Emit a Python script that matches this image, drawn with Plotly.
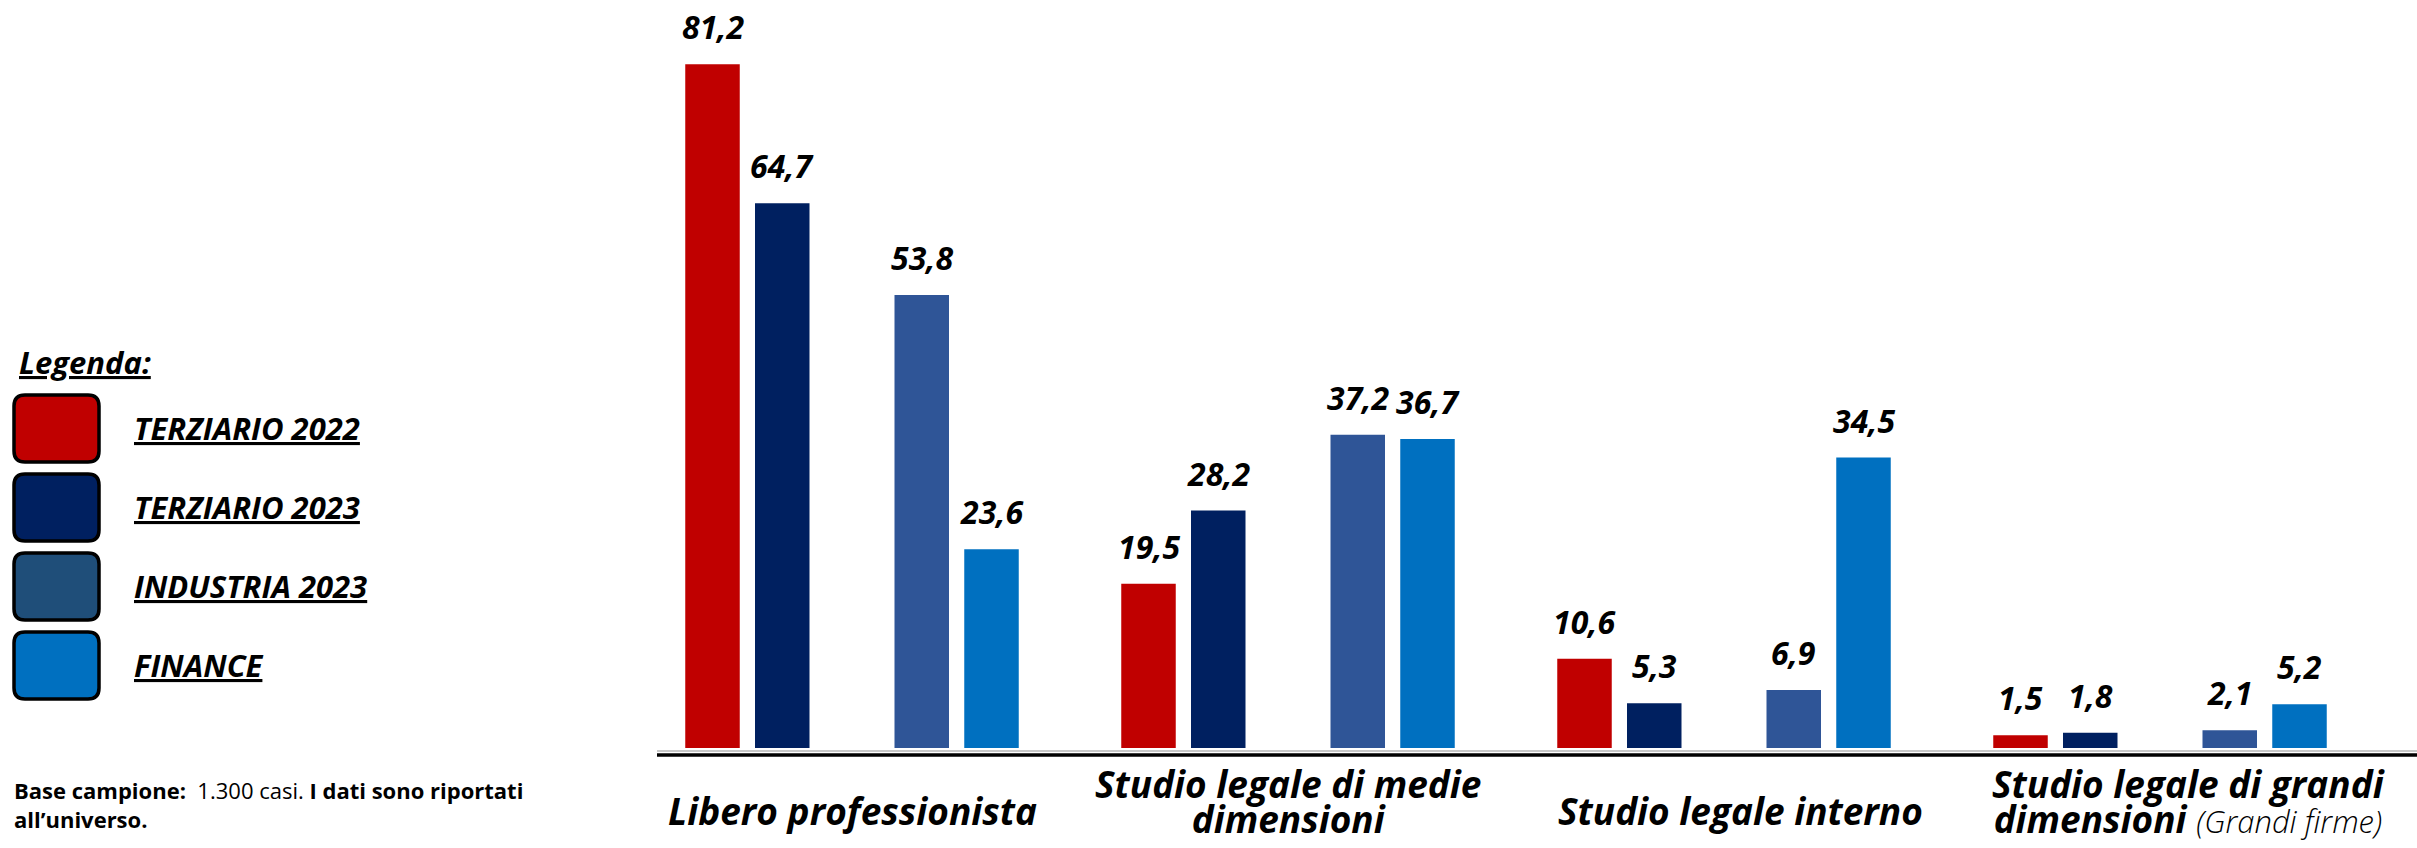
import plotly.graph_objects as go

# ---------------- data ----------------
categories = [
    "Libero professionista",
    "Studio legale di medie dimensioni",
    "Studio legale interno",
    "Studio legale di grandi dimensioni (Grandi firme)",
]
category_lines = [
    ["Libero professionista"],
    ["Studio legale di medie", "dimensioni"],
    ["Studio legale interno"],
    ["Studio legale di grandi",
     "dimensioni <span style='font-weight:300;font-size:31px'>(Grandi firme)</span>"],
]
series_names = ["TERZIARIO 2022", "TERZIARIO 2023", "INDUSTRIA 2023", "FINANCE"]
terziario_2022 = [81.2, 19.5, 10.6, 1.5]
terziario_2023 = [64.7, 28.2, 5.3, 1.8]
industria_2023 = [53.8, 37.2, 6.9, 2.1]
finance = [23.6, 36.7, 34.5, 5.2]
series_values = [terziario_2022, terziario_2023, industria_2023, finance]

# ---------------- styles ----------------
bar_colors = ["#C00000", "#002060", "#2F5597", "#0070C0"]
swatch_colors = ["#C00000", "#002060", "#1F4E79", "#0070C0"]
FONT = "Open Sans"

W, H = 2417, 848
ML, MR, MT, MB = 660, 0, 0, 100
PW, PH = W - ML - MR, H - MT - MB
CAT_PX = 436.0                      # pixels per category
SLOT = 69.75 / CAT_PX               # distance between bar slots (category units)
BAR_W = 54.5 / CAT_PX
slot_pos = [-2, -1, 1, 2]           # empty slot in the middle of each group
X_RANGE = [-(852 - ML) / CAT_PX, 3 + (W - 2160) / CAT_PX]
Y_MAX = PH / 8.42
label_xshift = [0, 0, 16, 28]
LABEL_SIZE = 37
LINE_GAP = 34.5                     # px between label baselines


def px_x(p):
    return (p - ML) / PW


def px_y(p):
    return (MT + PH - p) / PH


def rounded_rect(x0, y0, x1, y1, r):
    X = lambda v: f"{px_x(v):.6f}"
    Y = lambda v: f"{px_y(v):.6f}"
    return (f"M {X(x0 + r)},{Y(y0)} L {X(x1 - r)},{Y(y0)} "
            f"Q {X(x1)},{Y(y0)} {X(x1)},{Y(y0 + r)} "
            f"L {X(x1)},{Y(y1 - r)} Q {X(x1)},{Y(y1)} {X(x1 - r)},{Y(y1)} "
            f"L {X(x0 + r)},{Y(y1)} Q {X(x0)},{Y(y1)} {X(x0)},{Y(y1 - r)} "
            f"L {X(x0)},{Y(y0 + r)} Q {X(x0)},{Y(y0)} {X(x0 + r)},{Y(y0)} Z")


fig = go.Figure()
annotations = []

for i, (name, vals) in enumerate(zip(series_names, series_values)):
    off = slot_pos[i] * SLOT
    fig.add_trace(go.Bar(
        x=categories, y=vals, name=name,
        offset=off - BAR_W / 2, width=BAR_W,
        marker=dict(color=bar_colors[i], line=dict(width=0)),
        showlegend=False, hoverinfo="skip",
    ))
    for c, v in enumerate(vals):
        annotations.append(dict(
            x=c + off, y=v, xref="x", yref="y",
            text=f"{v:.1f}".replace(".", ","),
            showarrow=False, yanchor="bottom", xanchor="center", yshift=14,
            font=dict(family=FONT, size=32, color="black", weight="bold", style="italic"),
        ))

# category labels (one annotation each; line spacing set by the base font size)
for c, lines in enumerate(category_lines):
    text = "<br>".join(f"<span style='font-size:{LABEL_SIZE}px'>{ln}</span>" for ln in lines)
    cy = 810 if len(lines) == 1 else 801
    annotations.append(dict(
        x=c, y=0, xref="x", yref="paper",
        text=text, showarrow=False, xanchor="center", yanchor="middle", align="center",
        xshift=label_xshift[c], yshift=-(cy - (MT + PH)),
        font=dict(family=FONT, size=LINE_GAP / 1.3 if len(lines) > 1 else LABEL_SIZE,
                  color="black", weight="bold", style="italic"),
    ))

# legend
annotations.append(dict(
    x=px_x(17), y=px_y(362), xref="paper", yref="paper",
    text="<u>Legenda:</u>", showarrow=False, xanchor="left", yanchor="middle",
    font=dict(family=FONT, size=31, color="black", weight="bold", style="italic"),
))
shapes = []
for i, name in enumerate(series_names):
    top = 395 + i * 79
    shapes.append(dict(
        type="path", xref="paper", yref="paper",
        path=rounded_rect(14, top, 99, top + 67, 11),
        fillcolor=swatch_colors[i], line=dict(color="black", width=3.5),
        layer="above",
    ))
    annotations.append(dict(
        x=px_x(132), y=px_y(top + 33), xref="paper", yref="paper",
        text=f"<u>{name}</u>", showarrow=False, xanchor="left", yanchor="middle",
        font=dict(family=FONT, size=31, color="black", weight="bold", style="italic"),
    ))

# note
annotations.append(dict(
    x=px_x(12), y=px_y(804), xref="paper", yref="paper",
    text=("<b>Base campione:</b>  <span style='font-weight:normal'>1.300 casi.</span> "
          "<b>I dati sono riportati</b><br><b>all\u2019universo.</b>"),
    showarrow=False, xanchor="left", yanchor="middle", align="left",
    font=dict(family=FONT, size=22, color="black"),
))

# baseline
shapes.append(dict(type="line", xref="paper", yref="paper",
                   x0=px_x(657), x1=1, y0=px_y(751), y1=px_y(751),
                   line=dict(color="#C8C8C8", width=2)))
shapes.append(dict(type="line", xref="paper", yref="paper",
                   x0=px_x(657), x1=1, y0=px_y(755), y1=px_y(755),
                   line=dict(color="black", width=3.5)))

fig.update_layout(
    width=W, height=H,
    margin=dict(l=ML, r=MR, t=MT, b=MB, pad=0),
    barmode="overlay",
    plot_bgcolor="white", paper_bgcolor="white",
    xaxis=dict(type="category", range=X_RANGE, showticklabels=False, showgrid=False,
               zeroline=False, showline=False, ticks="", fixedrange=True),
    yaxis=dict(range=[0, Y_MAX], showticklabels=False, showgrid=False,
               zeroline=False, showline=False, ticks="", fixedrange=True),
    annotations=annotations, shapes=shapes,
    showlegend=False,
)

fig.write_html("out.html", config={"displayModeBar": False},
               post_script="document.body.style.margin='0';document.body.style.overflow='hidden';")
